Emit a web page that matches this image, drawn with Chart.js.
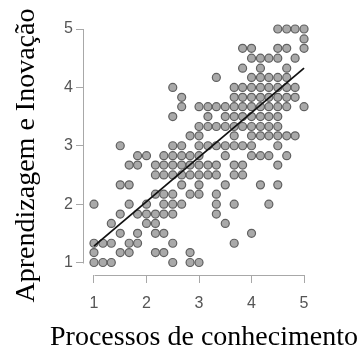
<!DOCTYPE html>
<html>
<head>
<meta charset="utf-8">
<script src="https://cdn.jsdelivr.net/npm/chart.js@4"></script>
<style>
  body { margin: 0; background: #fff; }
  #wrap { width: 364px; height: 349px; }
</style>
</head>
<body>
<div id="wrap"><canvas id="chart"></canvas></div>
<script>
// points grouped by row: one y value, several x values
const rowY = [5, 4.83, 4.67, 4.5, 4.33, 4.17, 4, 3.83, 3.67, 3.5, 3.33, 3.17, 3,
              2.83, 2.67, 2.5, 2.33, 2.17, 2, 1.83, 1.67, 1.5, 1.33, 1.17, 1]
const rowX = [
    [4.5, 4.67, 4.83, 5],
    [5],
    [3.83, 4, 4.5, 4.67, 5],
    [4, 4.17, 4.33, 4.5, 4.83],
    [3.83, 4.17, 4.67],
    [3.33, 4, 4.17, 4.33, 4.5, 4.67],
    [2.5, 3.67, 3.83, 4, 4.17, 4.33, 4.5, 4.67, 4.83],
    [2.67, 3.67, 3.83, 4, 4.17, 4.33, 4.5, 4.67, 4.83],
    [2.67, 3, 3.17, 3.33, 3.5, 3.67, 3.83, 4, 4.17, 4.33, 4.5, 4.67, 5],
    [2.5, 3.17, 3.5, 3.67, 3.83, 4, 4.17, 4.33, 4.5],
    [3, 3.17, 3.33, 3.5, 3.67, 3.83, 4, 4.17, 4.33, 4.5],
    [2.83, 3, 3.67, 4, 4.17, 4.33, 4.5, 4.67, 4.83],
    [1.5, 2.5, 2.67, 3, 3.17, 3.33, 3.5, 3.67, 3.83, 4, 4.5],
    [1.83, 2, 2.33, 2.5, 2.67, 2.83, 3, 3.5, 4, 4.17, 4.33, 4.67],
    [1.67, 1.83, 2.17, 2.33, 2.5, 2.67, 2.83, 3, 3.17, 3.33, 3.67, 3.83, 4.5],
    [2.17, 2.33, 2.5, 2.67, 2.83, 3, 3.17, 3.33, 3.67, 3.83],
    [1.5, 1.67, 2.67, 3, 3.5, 4.17, 4.5],
    [2.17, 2.33, 2.5, 2.83, 3, 3.33],
    [1, 1.67, 2, 2.33, 2.5, 2.67, 3.33, 3.67, 4.33],
    [1.5, 1.83, 2, 2.17, 2.33, 2.5, 3.33],
    [1.33, 2, 2.17, 3.5],
    [1.5, 1.83, 2.17, 2.33, 4],
    [1, 1.17, 1.33, 1.67, 1.83, 2.5, 3.67],
    [1, 1.5, 1.67, 2.17, 2.33, 2.83],
    [1, 1.17, 1.33, 2.5, 2.83, 3]
]

// fitted line, start and end
const fitX = [1, 5]
const fitY = [1.28, 4.33]

const xTicks = [1, 2, 3, 4, 5]
const yTicks = [1, 2, 3, 4, 5]
const xTitle = 'Processos de conhecimento'
const yTitle = 'Aprendizagem e Inovação'

const axisColor = '#a8a8a8'
const titleFont = '28px "Liberation Serif"'

const points = rowY.flatMap((y, i) => rowX[i].map(x => ({x, y})))
const fitLine = fitX.map((x, i) => ({x, y: fitY[i]}))

// R style axes: line only from first to last tick, titles wider than the plot
const axisDecor = {
    id: 'axisDecor',
    afterDraw(chart) {
        const {ctx, chartArea, scales: {x, y}} = chart
        ctx.save()
        ctx.strokeStyle = axisColor
        ctx.lineWidth = 1
        ctx.beginPath()
        ctx.moveTo(Math.round(x.getPixelForValue(xTicks[0])) + 0.5, chartArea.bottom + 0.5)
        ctx.lineTo(Math.round(x.getPixelForValue(xTicks[xTicks.length - 1])) + 0.5, chartArea.bottom + 0.5)
        ctx.moveTo(chartArea.left - 0.5, Math.round(y.getPixelForValue(yTicks[0])) + 0.5)
        ctx.lineTo(chartArea.left - 0.5, Math.round(y.getPixelForValue(yTicks[yTicks.length - 1])) + 0.5)
        ctx.stroke()

        ctx.fillStyle = '#000'
        ctx.font = titleFont
        ctx.textAlign = 'center'
        ctx.textBaseline = 'alphabetic'
        ctx.fillText(xTitle, (chartArea.left + chartArea.right) / 2, chart.height - 4)

        ctx.translate(27, (chartArea.top + chartArea.bottom) / 2 + 6)
        ctx.rotate(-Math.PI / 2)
        ctx.textBaseline = 'middle'
        ctx.fillText(yTitle, 0, 0)
        ctx.restore()
    }
}

const tickFont = {family: 'Liberation Sans', size: 16}

new Chart(document.getElementById('chart'), {
    type: 'scatter',
    data: {
        datasets: [
            {
                data: fitLine,
                showLine: true,
                borderColor: '#111',
                borderWidth: 1.8,
                pointRadius: 0
            },
            {
                data: points,
                pointRadius: 4,
                borderWidth: 1.2,
                backgroundColor: '#a9a9a9',
                borderColor: '#606060'
            }
        ]
    },
    options: {
        responsive: true,
        maintainAspectRatio: false,
        animation: false,
        layout: {padding: {top: 24, right: 40, left: 0, bottom: 0}},
        plugins: {
            legend: {display: false},
            tooltip: {enabled: false}
        },
        scales: {
            x: {
                min: 0.81,
                max: 5.38,
                afterFit: s => { s.height = 74 },
                afterBuildTicks: s => { s.ticks = xTicks.map(v => ({value: v})) },
                border: {display: false},
                grid: {drawOnChartArea: false, drawTicks: true, tickLength: 8, color: axisColor},
                ticks: {font: tickFont, color: '#555', padding: 11, maxRotation: 0}
            },
            y: {
                min: 0.786,
                max: 5.086,
                afterFit: s => { s.width = 84 },
                afterBuildTicks: s => { s.ticks = yTicks.map(v => ({value: v})) },
                border: {display: false},
                grid: {drawOnChartArea: false, drawTicks: true, tickLength: 8, color: axisColor},
                ticks: {font: tickFont, color: '#555', padding: 3}
            }
        }
    },
    plugins: [axisDecor]
})
</script>
</body>
</html>
